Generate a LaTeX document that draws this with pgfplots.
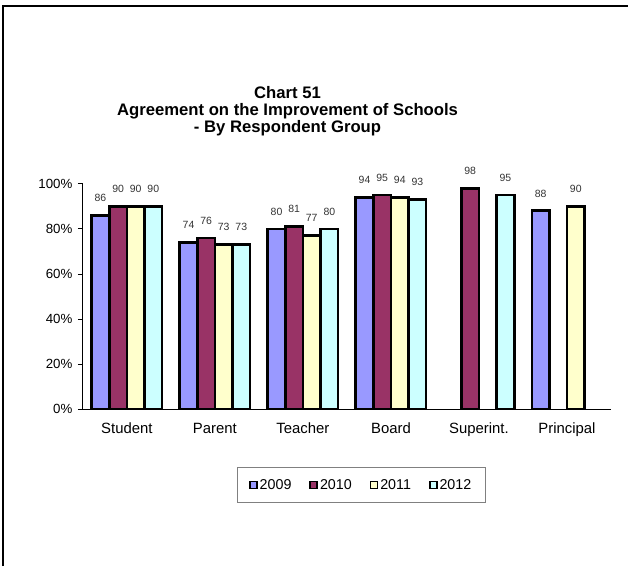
\documentclass[border=0pt]{standalone}
\usepackage{pgfplots}
\pgfplotsset{compat=1.18}
\usepackage{fontspec}
\setmainfont{Liberation Sans}

\definecolor{c2009}{RGB}{153,153,255}
\definecolor{c2010}{RGB}{153,51,102}
\definecolor{c2011}{RGB}{255,255,204}
\definecolor{c2012}{RGB}{204,255,255}
\definecolor{legframe}{RGB}{128,128,128}

\begin{document}
\begin{tikzpicture}[x=1bp,y=1bp]
  % page frame (left and top edges only, as in the picture)
  \path (0,0) rectangle (629,567);
  \draw[line width=2bp] (3.5,0) -- (3.5,560.5) -- (629,560.5);

  % title
  \node[align=center, font=\fontsize{16.7bp}{17bp}\selectfont\bfseries] at (288,455.5)
    {Chart 51\\Agreement on the Improvement of Schools\\- By Respondent Group};

  \begin{axis}[
      at={(83bp,157bp)}, anchor=south west,
      scale only axis,
      width=529bp, height=226bp,
      ybar=0pt, bar width=0.2,
      xmin=-0.5, xmax=5.5,
      ymin=0, ymax=100,
      axis x line*=bottom, axis y line*=left,
      axis line style={-, line width=0.8bp},
      xtick={0,1,2,3,4,5},
      xticklabels={Student, Parent, Teacher, Board, Superint., Principal},
      x tick style={draw=none},
      extra x ticks={-0.5,0.5,1.5,2.5,3.5,4.5,5.5},
      extra x tick labels={},
      extra x tick style={tick style={draw=black, line width=0.8bp}, major tick length=5bp, tick align=outside},
      ytick={0,20,40,60,80,100},
      yticklabel={\pgfmathprintnumber{\tick}\%},
      y tick style={draw=black, line width=0.8bp},
      major tick length=5bp, tick align=outside,
      /pgf/number format/assume math mode=true,
      yticklabel style={font=\fontsize{13.3bp}{16bp}\selectfont, xshift=-2bp},
      xticklabel style={font=\fontsize{14.9bp}{17bp}\selectfont, yshift=-5bp},
      nodes near coords,
      every node near coord/.append style={font=\fontsize{10.5bp}{12bp}\selectfont, yshift=9bp, color=black!80},
      legend columns=-1,
      legend style={at={(0.527,-0.335)}, anchor=center, draw=legframe, line width=0.8bp,
        font=\fontsize{14.3bp}{16bp}\selectfont, inner xsep=12bp, inner ysep=10bp,
        /tikz/every even column/.append style={column sep=16bp}},
      legend image code/.code={\draw[#1, draw=black, line width=1.6bp] (0bp,-3.5bp) rectangle (7bp,3.5bp);},
    ]
    \addplot[fill=c2009, draw=black, line width=2.6bp] coordinates {(0,86) (1,74) (2,80) (3,94) (5,88)};
    \addplot[fill=c2010, draw=black, line width=2.6bp] coordinates {(0,90) (1,76) (2,81) (3,95) (4,98)};
    \addplot[fill=c2011, draw=black, line width=2.6bp] coordinates {(0,90) (1,73) (2,77) (3,94) (5,90)};
    \addplot[fill=c2012, draw=black, line width=2.6bp] coordinates {(0,90) (1,73) (2,80) (3,93) (4,95)};
    \legend{2009, 2010, 2011, 2012}
  \end{axis}
\end{tikzpicture}
\end{document}
